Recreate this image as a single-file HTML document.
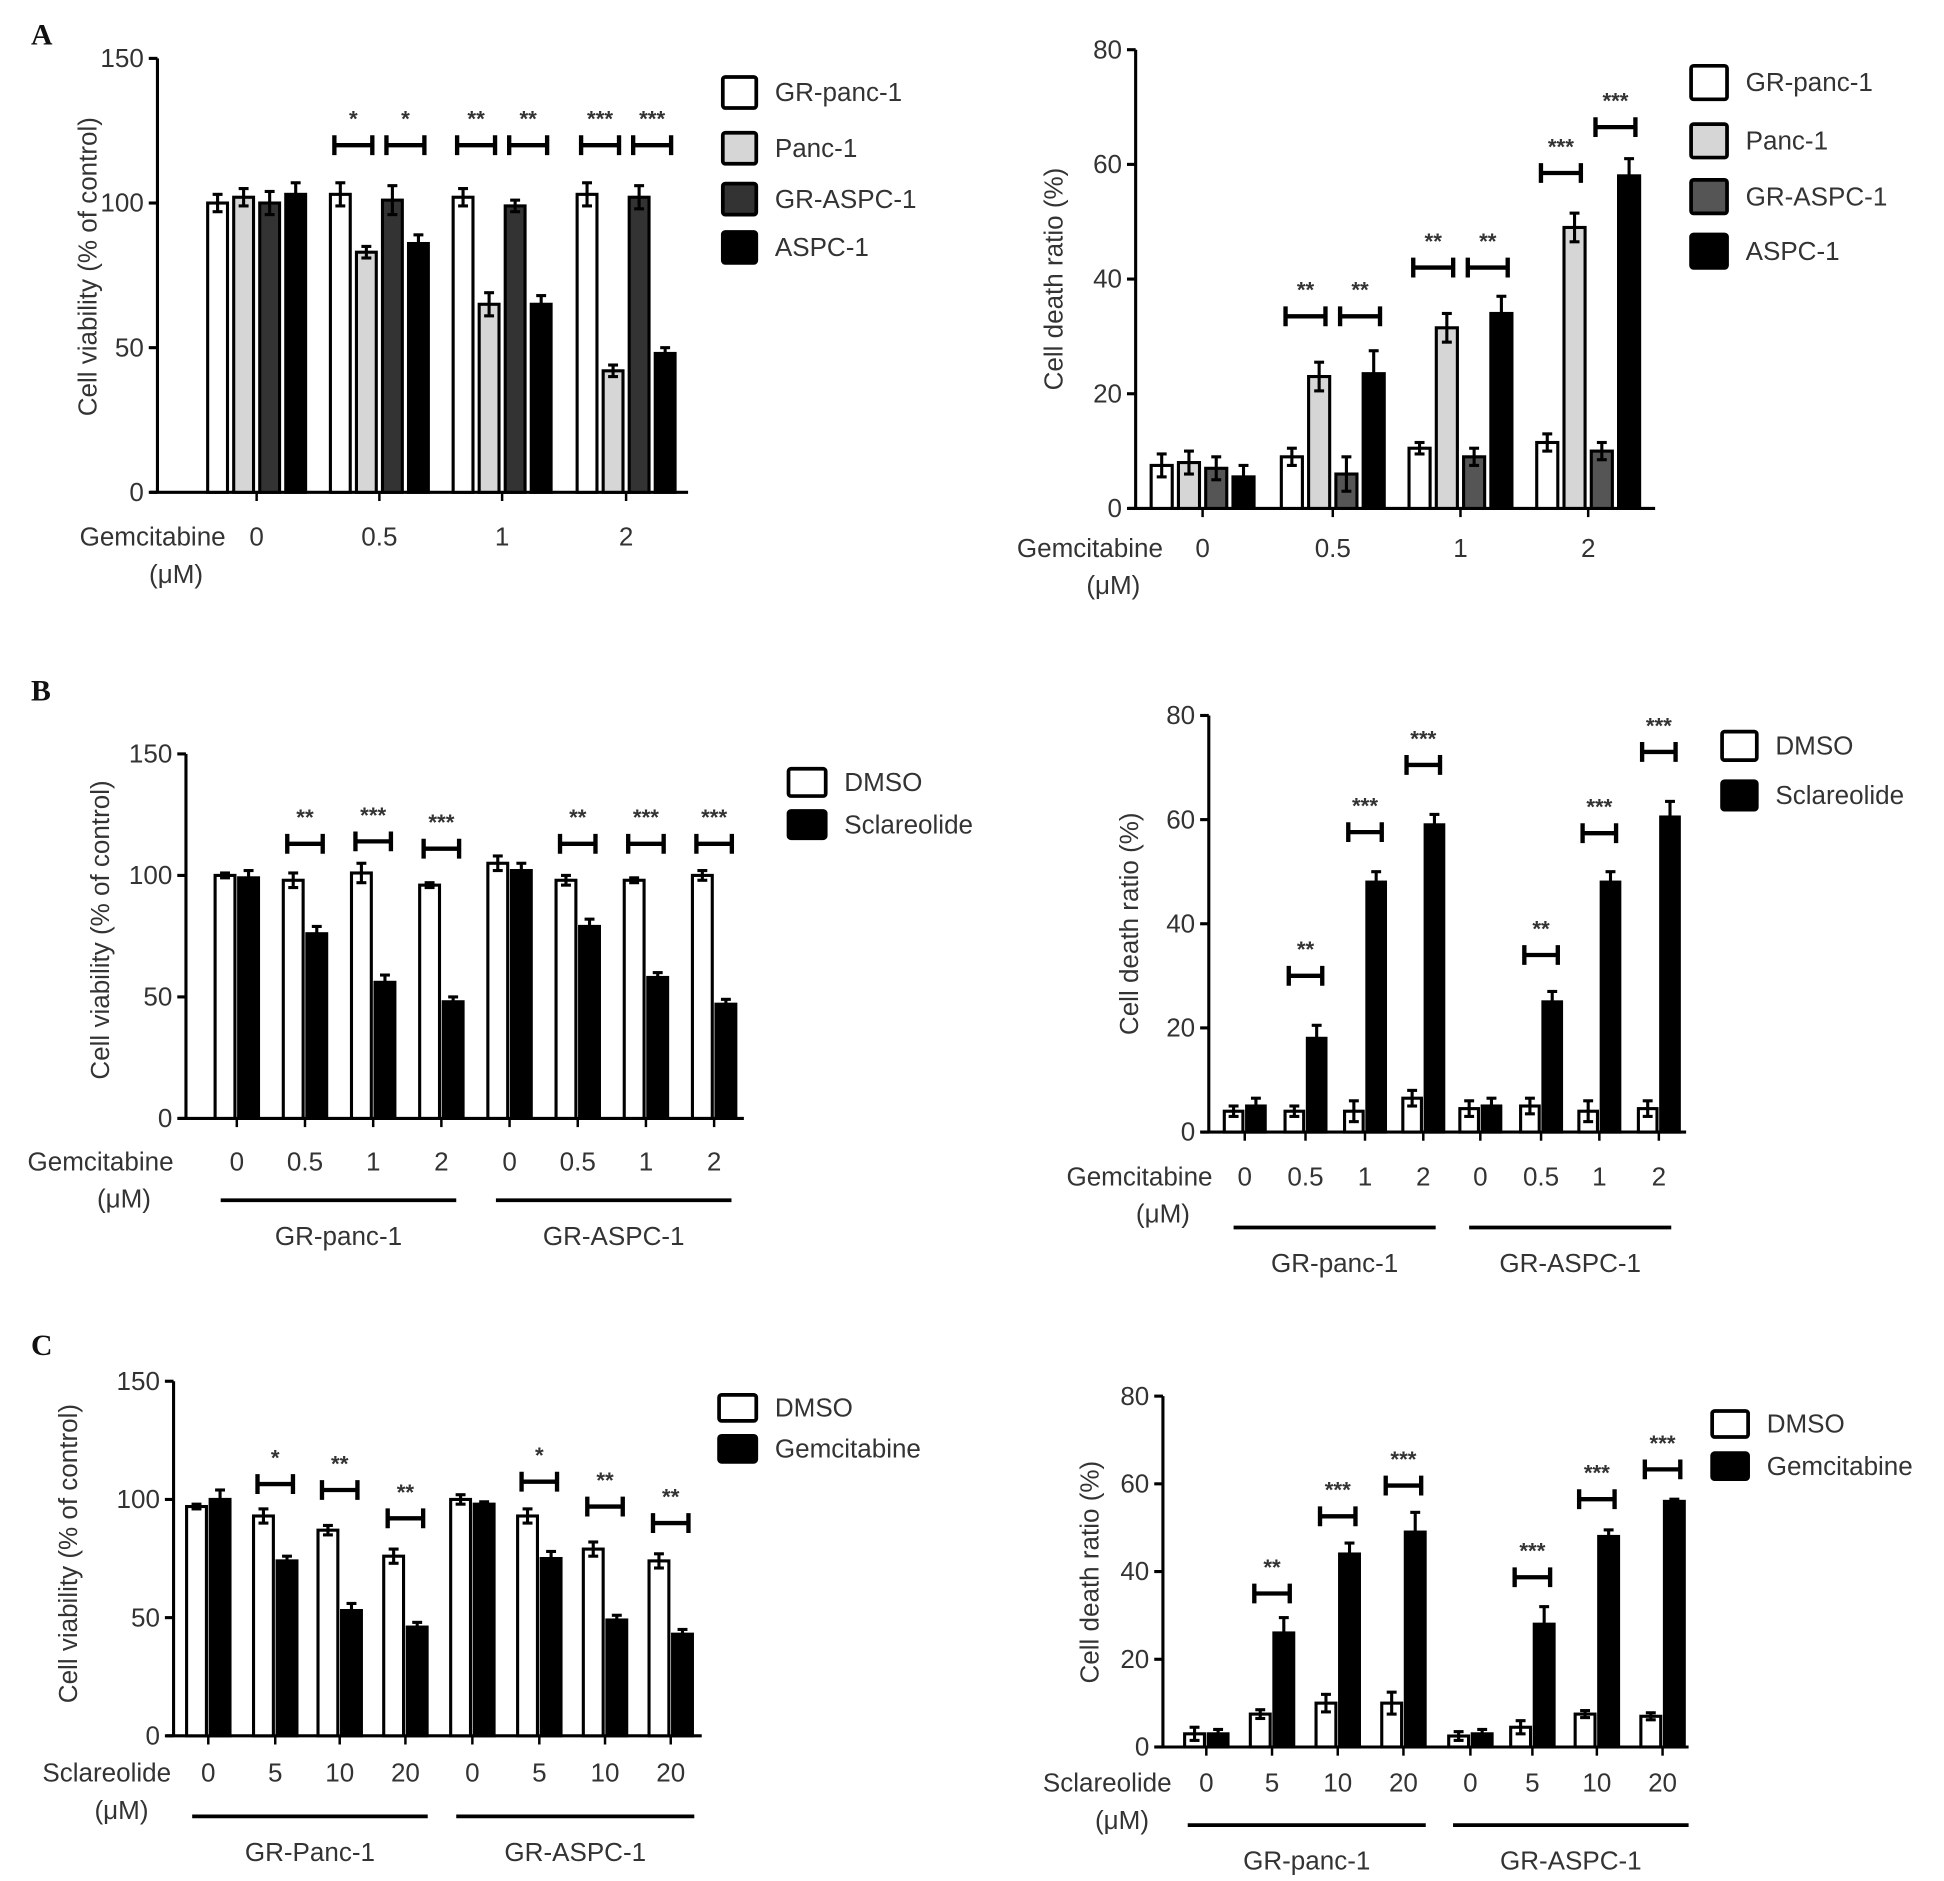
<!DOCTYPE html>
<html><head><meta charset="utf-8">
<style>
html,body{margin:0;padding:0;background:#fff;}
svg{display:block;}
text{font-family:"Liberation Sans",Arial,sans-serif;fill:#333;}
.pl{font-family:"Liberation Serif",serif;font-weight:bold;fill:#111;}
</style></head>
<body>
<svg id="fig" width="1944" height="1881" viewBox="0 0 1568 1517" xmlns="http://www.w3.org/2000/svg">
<text class="pl" x="25" y="36" font-size="24">A</text>
<text class="pl" x="25" y="565" font-size="24">B</text>
<text class="pl" x="25" y="1093" font-size="24">C</text>
</svg>
<script>
// ---- Panel A left: viability ----
const aCats = ["0","0.5","1","2"];
const aSeriesNames = ["GR-panc-1","Panc-1","GR-ASPC-1","ASPC-1"];
const aLV0 = [100,103,102,103];
const aLV1 = [102,83,65,42];
const aLV2 = [100,101,99,102];
const aLV3 = [103,86,65,48];
const aLE0 = [3,4,3,4];
const aLE1 = [3,2,4,2];
const aLE2 = [4,5,2,4];
const aLE3 = [4,3,3,2];
const aLTicks = [0,50,100,150];
const aLSig = [[1,0,1,120,"*"],[1,2,3,120,"*"],[2,0,1,120,"**"],[2,2,3,120,"**"],[3,0,1,120,"***"],[3,2,3,120,"***"]];
// ---- Panel A right: death ratio ----
const aRV0 = [7.5,9,10.5,11.5];
const aRV1 = [8,23,31.5,49];
const aRV2 = [7,6,9,10];
const aRV3 = [5.5,23.5,34,58];
const aRE0 = [2,1.5,1,1.5];
const aRE1 = [2,2.5,2.5,2.5];
const aRE2 = [2,3,1.5,1.5];
const aRE3 = [2,4,3,3];
const aRTicks = [0,20,40,60,80];
const aRSig = [[1,0,1,33.5,"**"],[1,2,3,33.5,"**"],[2,0,1,42,"**"],[2,2,3,42,"**"],[3,0,1,58.5,"***"],[3,2,3,66.5,"***"]];
// ---- Panel B ----
const bCats = ["0","0.5","1","2","0","0.5","1","2"];
const bLDmso = [100,98,101,96,105,98,98,100];
const bLScl = [99,76,56,48,102,79,58,47];
const bLDmsoE = [1,3,4,1,3,2,1,2];
const bLSclE = [3,3,3,2,3,3,2,2];
const bLSig = [[1,0,1,113,"**"],[2,0,1,114,"***"],[3,0,1,111,"***"],[5,0,1,113,"**"],[6,0,1,113,"***"],[7,0,1,113,"***"]];
const bRDmso = [4,4,4,6.5,4.5,5,4,4.5];
const bRScl = [5,18,48,59,5,25,48,60.5];
const bRDmsoE = [1,1,2,1.5,1.5,1.5,2,1.5];
const bRSclE = [1.5,2.5,2,2,1.5,2,2,3];
const bRSig = [[1,0,1,30,"**"],[2,0,1,57.6,"***"],[3,0,1,70.5,"***"],[5,0,1,34,"**"],[6,0,1,57.4,"***"],[7,0,1,73,"***"]];
// ---- Panel C ----
const cCats = ["0","5","10","20","0","5","10","20"];
const cLDmso = [97,93,87,76,100,93,79,74];
const cLGem = [100,74,53,46,98,75,49,43];
const cLDmsoE = [1,3,2,3,2,3,3,3];
const cLGemE = [4,2,3,2,1,3,2,2];
const cLSig = [[1,0,1,106.5,"*"],[2,0,1,104,"**"],[3,0,1,92,"**"],[5,0,1,107.5,"*"],[6,0,1,97,"**"],[7,0,1,90,"**"]];
const cRDmso = [3,7.5,10,10,2.5,4.5,7.5,7];
const cRGem = [3,26,44,49,3,28,48,56];
const cRDmsoE = [1.5,1,2,2.5,1,1.5,0.8,0.8];
const cRGemE = [1,3.5,2.5,4.5,1,4,1.5,0.5];
const cRSig = [[1,0,1,35,"**"],[2,0,1,52.6,"***"],[3,0,1,59.6,"***"],[5,0,1,38.7,"***"],[6,0,1,56.5,"***"],[7,0,1,63.3,"***"]];

const NS="http://www.w3.org/2000/svg";
const svg=document.getElementById('fig');
function mk(tag,attrs,parent){const e=document.createElementNS(NS,tag);for(const k in attrs)e.setAttribute(k,attrs[k]);(parent||svg).appendChild(e);return e;}
function txt(s,attrs,parent){const e=mk('text',attrs,parent);e.textContent=s;return e;}

function chart(o){
  const g=mk('g',{});
  
  
  const y=v=>o.y0-(v/o.ymax)*(o.y0-o.ytop);
  const x=i=>o.gx[i];
  const ya=mk('line',{x1:o.ax,y1:o.ytop,x2:o.ax,y2:o.y0,stroke:'#000','stroke-width':2.5},g);
  
  
  const xa=mk('line',{x1:o.ax-6,y1:o.y0,x2:o.xend,y2:o.y0,stroke:'#000','stroke-width':2.5},g);
  
  
  o.ticks.forEach(t=>{
    mk('line',{x1:o.ax-7,y1:y(t),x2:o.ax,y2:y(t),stroke:'#000','stroke-width':2.5},g);
    const tl=txt(String(t),{x:o.ax-11,y:y(t)+7,'text-anchor':'end','font-size':21},g);
    
    
  });
  const yt=txt(o.ylabel,{x:0,y:0,'text-anchor':'middle','font-size':21,transform:`translate(${o.ylx},${o.yly}) rotate(-90)`},g);
  
  
  const n=o.series.length;
  o.cats.forEach((c,i)=>{
    mk('line',{x1:x(i),y1:o.y0,x2:x(i),y2:o.y0+7,stroke:'#000','stroke-width':2},g);
    const cl=txt(c,{x:x(i),y:o.tly,'text-anchor':'middle','font-size':21},g);
    
    
    o.series.forEach((s,k)=>{
      const cx=x(i)+(k-(n-1)/2)*o.step;
      const v=s[i], e=o.errs[k][i];
      const r=mk('rect',{x:cx-o.bw/2,y:y(v),width:o.bw,height:o.y0-y(v),fill:o.fills[k],stroke:'#000','stroke-width':2.5},g);
      
      
      mk('line',{x1:cx,y1:y(v-e),x2:cx,y2:y(v+e),stroke:'#000','stroke-width':2.5},g);
      mk('line',{x1:cx-4,y1:y(v+e),x2:cx+4,y2:y(v+e),stroke:'#000','stroke-width':2.5},g);
      mk('line',{x1:cx-4,y1:y(v-e),x2:cx+4,y2:y(v-e),stroke:'#000','stroke-width':2.5},g);
    });
  });
  o.sig.forEach(sg=>{
    const [gi,a,b,v,st]=sg;
    const xa_=x(gi)+(a-(n-1)/2)*o.step-o.bw*0.3, xb=x(gi)+(b-(n-1)/2)*o.step+o.bw*0.3;
    const yy=y(v);
    const br=mk('path',{d:`M${xa_},${yy-8}V${yy+8}M${xa_},${yy}H${xb}M${xb},${yy-8}V${yy+8}`,stroke:'#000','stroke-width':3.5,fill:'none'},g);
    
    
    const s=txt(st,{x:(xa_+xb)/2,y:yy-15,'text-anchor':'middle','font-size':18,'font-weight':'bold',fill:'#444'},g);
    
    
  });
  const xt=txt(o.xlabel,{x:o.xlx,y:o.tly,'text-anchor':'end','font-size':21},g);
  
  
  const xu=txt('(\u03bcM)',{x:o.xlx-40,y:o.tly+30,'text-anchor':'middle','font-size':21},g);
  
  
  (o.groups||[]).forEach(gr=>{
    mk('line',{x1:gr[0],y1:gr[2],x2:gr[1],y2:gr[2],stroke:'#000','stroke-width':3},g);
    const gl=txt(gr[3],{x:(gr[0]+gr[1])/2,y:gr[2]+36,'text-anchor':'middle','font-size':21},g);
    
    
  });
  o.snames.forEach((s,k)=>{
    const ly=o.legy[k];
    const lb=mk('rect',{x:o.legx,y:ly,width:o.legw,height:o.legh,fill:o.fills[k],stroke:'#000','stroke-width':3,rx:2},g);
    
    
    const lt=txt(s,{x:o.legx+o.legw+15,y:ly+o.legh/2+7,'font-size':21},g);
    
    
  });
}
const four=['#fff','#d6d6d6','#333','#000'];
const four2=['#fff','#d6d6d6','#555','#000'];
chart({name:'chart-a-viability',ax:127,ytop:47,y0:397,ymax:150,xend:555,ticks:aLTicks,cats:aCats,gx:[207,306,405,505],
  series:[aLV0,aLV1,aLV2,aLV3],errs:[aLE0,aLE1,aLE2,aLE3],fills:four,snames:aSeriesNames,step:21,bw:16,sig:aLSig,
  ylabel:'Cell viability (% of control)',ylx:78,yly:215,xlabel:'Gemcitabine',xlx:182,tly:440,
  legx:583,legy:[62,107,148,187],legw:27,legh:25});
chart({name:'chart-a-death',ax:916,ytop:40,y0:410,ymax:80,xend:1335,ticks:aRTicks,cats:aCats,gx:[970,1075,1178,1281],
  series:[aRV0,aRV1,aRV2,aRV3],errs:[aRE0,aRE1,aRE2,aRE3],fills:four2,snames:aSeriesNames,step:22,bw:17,sig:aRSig,
  ylabel:'Cell death ratio (%)',ylx:857,yly:225,xlabel:'Gemcitabine',xlx:938,tly:449,
  legx:1364,legy:[53,100,145,189],legw:29,legh:27});
chart({name:'chart-b-viability',ax:150,ytop:608,y0:902,ymax:150,xend:600,ticks:aLTicks,cats:bCats,gx:[191,246,301,356,411,466,521,576],
  series:[bLDmso,bLScl],errs:[bLDmsoE,bLSclE],fills:['#fff','#000'],snames:['DMSO','Sclareolide'],step:19,bw:16,sig:bLSig,
  ylabel:'Cell viability (% of control)',ylx:88,yly:750,xlabel:'Gemcitabine',xlx:140,tly:944,
  groups:[[178,368,968,'GR-panc-1'],[400,590,968,'GR-ASPC-1']],
  legx:636,legy:[620,654],legw:30,legh:22});
chart({name:'chart-b-death',ax:975,ytop:577,y0:913,ymax:80,xend:1360,ticks:aRTicks,cats:bCats,gx:[1004,1053,1101,1148,1194,1243,1290,1338],
  series:[bRDmso,bRScl],errs:[bRDmsoE,bRSclE],fills:['#fff','#000'],snames:['DMSO','Sclareolide'],step:18,bw:15,sig:bRSig,
  ylabel:'Cell death ratio (%)',ylx:918,yly:745,xlabel:'Gemcitabine',xlx:978,tly:956,
  groups:[[995,1158,990,'GR-panc-1'],[1185,1348,990,'GR-ASPC-1']],
  legx:1389,legy:[590,630],legw:28,legh:23});
chart({name:'chart-c-viability',ax:140,ytop:1114,y0:1400,ymax:150,xend:566,ticks:aLTicks,cats:cCats,gx:[168,222,274,327,381,435,488,541],
  series:[cLDmso,cLGem],errs:[cLDmsoE,cLGemE],fills:['#fff','#000'],snames:['DMSO','Gemcitabine'],step:19,bw:16,sig:cLSig,
  ylabel:'Cell viability (% of control)',ylx:62,yly:1253,xlabel:'Sclareolide',xlx:138,tly:1437,
  groups:[[155,345,1465,'GR-Panc-1'],[368,560,1465,'GR-ASPC-1']],
  legx:580,legy:[1125,1158],legw:30,legh:21});
chart({name:'chart-c-death',ax:938,ytop:1126,y0:1409,ymax:80,xend:1362,ticks:aRTicks,cats:cCats,gx:[973,1026,1079,1132,1186,1236,1288,1341],
  series:[cRDmso,cRGem],errs:[cRDmsoE,cRGemE],fills:['#fff','#000'],snames:['DMSO','Gemcitabine'],step:19,bw:16,sig:cRSig,
  ylabel:'Cell death ratio (%)',ylx:886,yly:1268,xlabel:'Sclareolide',xlx:945,tly:1445,
  groups:[[958,1150,1472,'GR-panc-1'],[1172,1362,1472,'GR-ASPC-1']],
  legx:1381,legy:[1138,1172],legw:29,legh:21});
</script>
</body></html>
